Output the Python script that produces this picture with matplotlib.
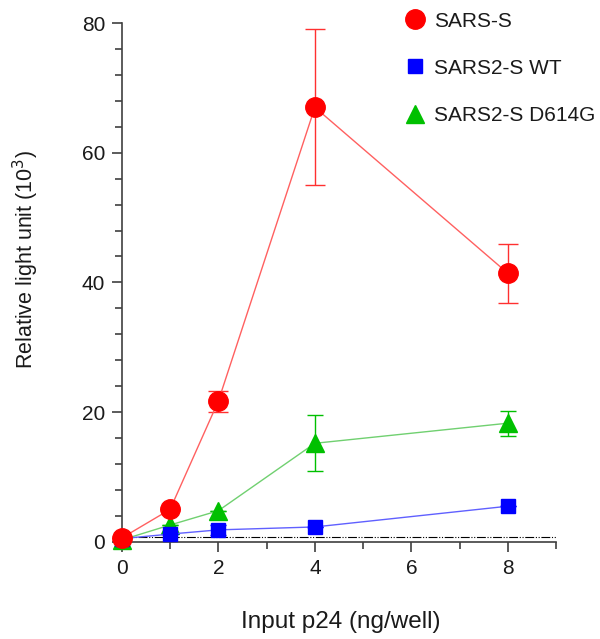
import numpy as np
import matplotlib.pyplot as plt
from matplotlib.lines import Line2D

plt.rcParams['font.family'] = ['Liberation Sans', 'DejaVu Sans']

# input p24 (ng/well)
dose = [0, 1, 2, 4, 8]

# relative light units (10^3)
sars_s = [0.6, 5.0, 21.7, 67.0, 41.4]
sars_s_err = [0.0, 0.0, 1.6, 12.0, 4.6]
sars2_wt = [0.5, 1.2, 1.85, 2.3, 5.5]
sars2_wt_err = [0.0, 0.0, 0.8, 0.0, 0.0]
sars2_g = [0.3, 2.6, 4.8, 15.2, 18.3]
sars2_g_err = [0.0, 0.0, 0.0, 4.3, 1.9]
background = 0.7

labels = ['SARS-S', 'SARS2-S WT', 'SARS2-S D614G']

fig = plt.figure(figsize=(6, 6.39), dpi=100)
ax = fig.add_axes([0.203, 0.152, 0.724, 0.812])

# background level
ax.plot([0, 9], [background, background], color='black', lw=0.8,
        linestyle=(0, (8, 1.5, 1, 1.5, 1, 1.5)), zorder=1)

ax.errorbar(dose, sars2_wt, yerr=sars2_wt_err, color='#6060ff', lw=1,
            marker='s', ms=10, mfc='blue', mec='blue', ecolor='blue',
            capsize=6, elinewidth=1, clip_on=False, zorder=3)
ax.errorbar(dose, sars2_g, yerr=sars2_g_err, color='#70d070', lw=1,
            marker='^', ms=13, mfc='#00c000', mec='#00c000', ecolor='#00c000',
            capsize=6, elinewidth=1, clip_on=False, zorder=2)
ax.errorbar(dose, sars_s, yerr=sars_s_err, color='#ff6060', lw=1,
            marker='o', ms=14, mfc='red', mec='red', ecolor='#ff3030',
            capsize=7, elinewidth=1, clip_on=False, zorder=4)

ax.set_xlim(0, 9)
ax.set_ylim(0, 80)
ax.set_xticks([0, 2, 4, 6, 8])
ax.set_xticks([1, 3, 5, 7, 9], minor=True)
ax.set_yticks([0, 20, 40, 60, 80])
ax.set_yticks(np.arange(0, 81, 4), minor=True)

for s in ['top', 'right']:
    ax.spines[s].set_visible(False)
for s in ['left', 'bottom']:
    ax.spines[s].set_color('#404040')
    ax.spines[s].set_linewidth(1.2)
ax.tick_params(which='major', length=7, width=1.2, color='#404040',
               labelsize=15, pad=5, labelcolor='#1a1a1a')
ax.tick_params(which='minor', length=5, width=1.2, color='#404040')

ax.set_xlabel('Input p24 (ng/well)', fontsize=17.5, color='#1a1a1a')
ax.xaxis.set_label_coords(0.505, -0.133)
ax.set_ylabel('Relative light unit (10$^3$)', fontsize=15.5, color='#1a1a1a')
ax.yaxis.set_label_coords(-0.186, 0.545)

# marker-only legend handles
handles = [
    Line2D([], [], ls='none', marker='o', ms=14, mfc='red', mec='red'),
    Line2D([], [], ls='none', marker='s', ms=10, mfc='blue', mec='blue'),
    Line2D([], [], ls='none', marker='^', ms=13, mfc='#00c000', mec='#00c000'),
]
ax.legend(handles, labels, loc='upper right',
          bbox_to_anchor=(1.133, 1.058), frameon=False, fontsize=15,
          labelspacing=1.35, handlelength=1.0, handletextpad=0.4,
          labelcolor='#1a1a1a')

fig.savefig('out.png', dpi=100)
